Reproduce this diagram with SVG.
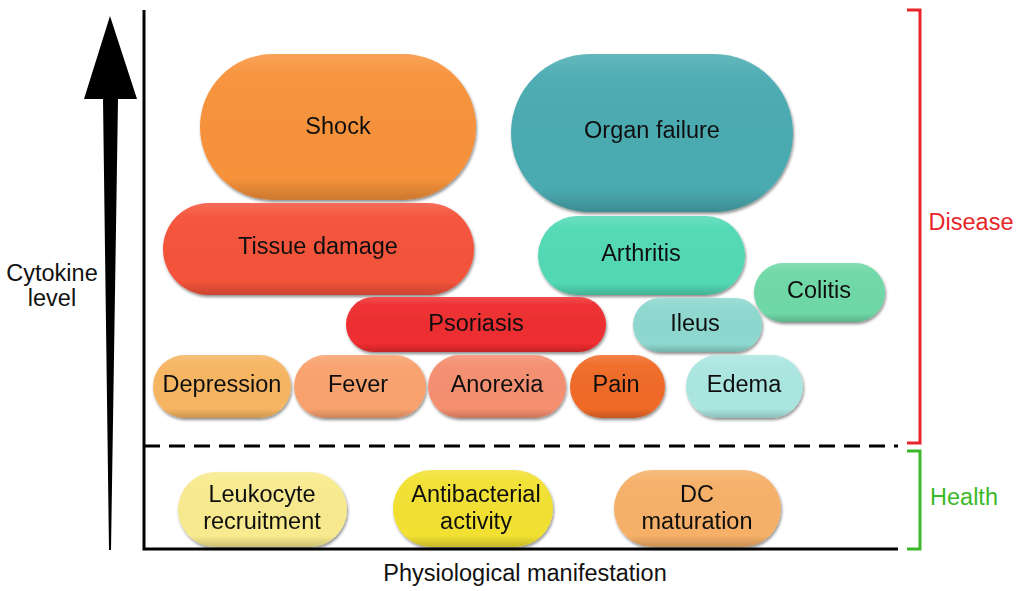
<svg xmlns="http://www.w3.org/2000/svg" width="1023" height="591" viewBox="0 0 1023 591">
<style>
text{font-family:"Liberation Sans",Arial,sans-serif;font-size:23.5px;fill:#111;text-anchor:middle;dominant-baseline:central}
.pill{filter:url(#sh)}
.ov{fill:url(#shade)}
.axis{stroke:#000;stroke-width:3;fill:none}
</style>
<defs>
<linearGradient id="shade" x1="0" y1="0" x2="0" y2="1">
<stop offset="0" stop-color="#fff" stop-opacity="0.15"/>
<stop offset="0.15" stop-color="#fff" stop-opacity="0.03"/>
<stop offset="0.85" stop-color="#000" stop-opacity="0"/>
<stop offset="1" stop-color="#000" stop-opacity="0.18"/>
</linearGradient>
<filter id="sh" x="-10%" y="-10%" width="120%" height="130%">
<feDropShadow dx="1" dy="2" stdDeviation="1.5" flood-color="#000" flood-opacity="0.45"/>
</filter>
</defs>
<rect width="1023" height="591" fill="#fff"/>
<g id="axes">
<path d="M110 16 L137 99 L118 99 L111 550 L109 550 L103 99 L84 99 Z" fill="#000"/>
<path class="axis" d="M144 10 V549 H898"/>
<line x1="144" y1="446" x2="898" y2="446" stroke="#000" stroke-width="3" stroke-dasharray="16 9"/>
<path d="M907 10 H920 V443 H907" stroke="#e8262a" stroke-width="3" fill="none"/>
<path d="M907 451 H920 V549 H907" stroke="#3cb92a" stroke-width="3" fill="none"/>
<text x="971" y="222" style="fill:#e8262a">Disease</text>
<text x="964" y="497" style="fill:#3cb92a">Health</text>
<text x="52" y="273">Cytokine</text>
<text x="52" y="298">level</text>
<text x="525" y="573">Physiological manifestation</text>
</g>
<g id="connectors"></g>
<g id="shock" class="pill"><rect x="200" y="54" width="276" height="146" rx="73" fill="#f7923a"/><rect class="ov" x="200" y="54" width="276" height="146" rx="73"/><text x="338" y="126">Shock</text></g>
<g id="organ-failure" class="pill"><rect x="511" y="54" width="282" height="158" rx="79" fill="#4aabb1"/><rect class="ov" x="511" y="54" width="282" height="158" rx="79"/><text x="652" y="130">Organ failure</text></g>
<g id="tissue-damage" class="pill"><rect x="163" y="203" width="311" height="92" rx="46" fill="#f4533a"/><rect class="ov" x="163" y="203" width="311" height="92" rx="46"/><text x="318" y="246">Tissue damage</text></g>
<g id="arthritis" class="pill"><rect x="538" y="216" width="207" height="79" rx="39.5" fill="#52d9b4"/><rect class="ov" x="538" y="216" width="207" height="79" rx="39.5"/><text x="641" y="253">Arthritis</text></g>
<g id="colitis" class="pill"><rect x="754" y="263" width="131" height="59" rx="29.5" fill="#6fd8a7"/><rect class="ov" x="754" y="263" width="131" height="59" rx="29.5"/><text x="819" y="290">Colitis</text></g>
<g id="psoriasis" class="pill"><rect x="346" y="297" width="260" height="55" rx="27.5" fill="#ee2d30"/><rect class="ov" x="346" y="297" width="260" height="55" rx="27.5"/><text x="476" y="323">Psoriasis</text></g>
<g id="ileus" class="pill"><rect x="633" y="298" width="129" height="54" rx="27" fill="#8ed8cf"/><rect class="ov" x="633" y="298" width="129" height="54" rx="27"/><text x="695" y="323">Ileus</text></g>
<g id="depression" class="pill"><rect x="153" y="355" width="138" height="63" rx="31.5" fill="#f6b562"/><rect class="ov" x="153" y="355" width="138" height="63" rx="31.5"/><text x="222" y="384">Depression</text></g>
<g id="fever" class="pill"><rect x="294" y="355" width="132" height="63" rx="31.5" fill="#f9a26e"/><rect class="ov" x="294" y="355" width="132" height="63" rx="31.5"/><text x="358" y="384">Fever</text></g>
<g id="anorexia" class="pill"><rect x="428" y="355" width="138" height="63" rx="31.5" fill="#f58f70"/><rect class="ov" x="428" y="355" width="138" height="63" rx="31.5"/><text x="497" y="384">Anorexia</text></g>
<g id="pain" class="pill"><rect x="570" y="355" width="95" height="63" rx="31.5" fill="#f06b28"/><rect class="ov" x="570" y="355" width="95" height="63" rx="31.5"/><text x="616" y="384">Pain</text></g>
<g id="edema" class="pill"><rect x="686" y="355" width="117" height="63" rx="31.5" fill="#abe6e1"/><rect class="ov" x="686" y="355" width="117" height="63" rx="31.5"/><text x="744" y="384">Edema</text></g>
<g id="leukocyte" class="pill"><rect x="178" y="472" width="169" height="75" rx="37.5" fill="#f8ea8e"/><rect class="ov" x="178" y="472" width="169" height="75" rx="37.5"/><text x="262" y="494">Leukocyte</text><text x="262" y="521">recruitment</text></g>
<g id="antibacterial" class="pill"><rect x="393" y="470" width="160" height="77" rx="38.5" fill="#f2e132"/><rect class="ov" x="393" y="470" width="160" height="77" rx="38.5"/><text x="476" y="494">Antibacterial</text><text x="476" y="521">activity</text></g>
<g id="dc" class="pill"><rect x="614" y="470" width="167" height="77" rx="38.5" fill="#f6b068"/><rect class="ov" x="614" y="470" width="167" height="77" rx="38.5"/><text x="697" y="494">DC</text><text x="697" y="521">maturation</text></g>
</svg>
